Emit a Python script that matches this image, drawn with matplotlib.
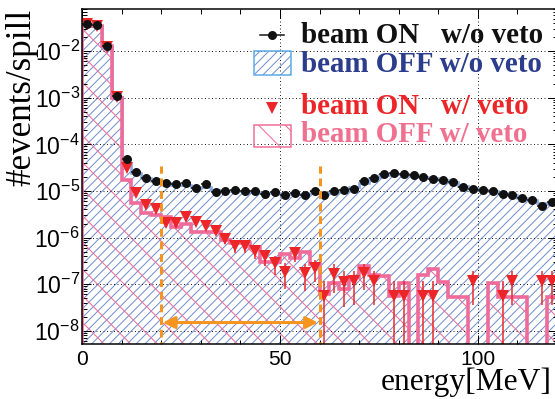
import numpy as np
import matplotlib
matplotlib.use("Agg")
import matplotlib.pyplot as plt
from matplotlib.patches import Rectangle
from matplotlib.lines import Line2D
from matplotlib.ticker import (FixedLocator, LogLocator, MultipleLocator,
                               FuncFormatter, NullFormatter)

# ---------------------------------------------------------------- data
bin_width = 2.5
n_bins = 48

# beam ON, no veto (events/spill per 2.5 MeV bin)
beam_on_noveto = [
    0.039, 0.036, 0.013, 0.0011, 4.8e-5, 2.5e-5, 1.9e-5, 1.6e-5,
    1.5e-5, 1.4e-5, 1.5e-5, 1.15e-5, 1.4e-5, 9.6e-6, 1.0e-5, 1.07e-5,
    9.8e-6, 1.0e-5, 8.8e-6, 9.4e-6, 8.3e-6, 9.1e-6, 8.2e-6, 9.8e-6,
    8.3e-6, 9.8e-6, 1.05e-5, 1.1e-5, 1.6e-5, 1.9e-5, 2.3e-5, 2.4e-5,
    2.35e-5, 2.2e-5, 1.95e-5, 1.8e-5, 1.7e-5, 1.58e-5, 1.2e-5, 1.08e-5,
    1.03e-5, 9.8e-6, 8.8e-6, 8.1e-6, 6.9e-6, 6.4e-6, 4.8e-6, 5.7e-6,
]

# beam OFF, no veto
beam_off_noveto = [
    0.038, 0.035, 0.0125, 0.00105, 3.8e-5, 2.4e-5, 1.9e-5, 1.6e-5,
    1.45e-5, 1.35e-5, 1.35e-5, 1.2e-5, 1.2e-5, 1.05e-5, 1.0e-5, 1.0e-5,
    9.8e-6, 9.6e-6, 9.2e-6, 9.0e-6, 8.8e-6, 8.7e-6, 8.6e-6, 8.9e-6,
    9.0e-6, 9.5e-6, 1.05e-5, 1.2e-5, 1.5e-5, 1.85e-5, 2.15e-5, 2.3e-5,
    2.3e-5, 2.2e-5, 2.0e-5, 1.85e-5, 1.7e-5, 1.55e-5, 1.3e-5, 1.15e-5,
    1.05e-5, 9.8e-6, 9.0e-6, 8.2e-6, 7.2e-6, 6.4e-6, 5.4e-6, 5.2e-6,
]

# beam ON, with veto (0 = empty bin)
beam_on_veto = [
    0.038, 0.035, 0.0125, 0.00105, 3.1e-5, 9.0e-6, 5.0e-6, 4.1e-6,
    2.1e-6, 2.1e-6, 2.8e-6, 2.2e-6, 1.8e-6, 1.4e-6, 9.4e-7, 6.5e-7,
    6.5e-7, 5.2e-7, 4.0e-7, 2.8e-7, 1.8e-7, 4.6e-7, 1.7e-7, 2.2e-7,
    5.7e-8, 1.65e-7, 1.12e-7, 1.15e-7, 1.75e-7, 1.15e-7, 0, 5.7e-8,
    5.7e-8, 0, 5.7e-8, 5.7e-8, 0, 0, 0, 1.15e-7,
    0, 0, 5.7e-8, 1.15e-7, 0, 0, 1.15e-7, 1.15e-7,
]
beam_on_veto_err = [
    0, 0, 0, 0, 1.3e-6, 7.2e-7, 5.3e-7, 4.8e-7,
    3.5e-7, 3.5e-7, 4.0e-7, 3.5e-7, 3.2e-7, 2.8e-7, 2.3e-7, 1.9e-7,
    1.9e-7, 1.7e-7, 1.5e-7, 1.26e-7, 1.0e-7, 1.6e-7, 1.0e-7, 1.1e-7,
    5.7e-8, 1.0e-7, 8.0e-8, 8.0e-8, 1.0e-7, 8.0e-8, 0, 5.7e-8,
    5.7e-8, 0, 5.7e-8, 5.7e-8, 0, 0, 0, 8.0e-8,
    0, 0, 5.7e-8, 8.0e-8, 0, 0, 8.0e-8, 8.0e-8,
]

# beam OFF, with veto (0 = empty bin)
beam_off_veto = [
    0.037, 0.035, 0.013, 0.001, 1.7e-5, 5.6e-6, 3.4e-6, 3.1e-6,
    2.7e-6, 1.7e-6, 2.0e-6, 1.3e-6, 1.3e-6, 1.3e-6, 8.7e-7, 7.6e-7,
    7.6e-7, 6.0e-7, 3.0e-7, 3.0e-7, 4.5e-7, 3.7e-7, 5.0e-7, 2.7e-7,
    6.0e-8, 1.07e-7, 8.0e-8, 1.4e-7, 2.4e-7, 1.6e-7, 1.5e-7, 5.5e-8,
    1.07e-7, 0, 1.6e-7, 2.1e-7, 1.1e-7, 5.3e-8, 5.3e-8, 0,
    0, 1.07e-7, 5.3e-8, 5.3e-8, 5.3e-8, 0, 0, 5.3e-8,
]

signal_window = [20, 60]          # MeV
window_line_top = 3.5e-5
window_arrow_y = 1.5e-8

y_decades = [1e-8, 1e-7, 1e-6, 1e-5, 1e-4, 1e-3, 1e-2]

legend_labels = ["beam ON   w/o veto", "beam OFF w/o veto",
                 "beam ON   w/ veto", "beam OFF w/ veto"]

# ---------------------------------------------------------------- style
DPI = 80
W, H = 555, 399
PT = 72.0 / DPI          # points per pixel

C_BLACK = "#111111"
C_BLUE_HATCH = "#7090d0"
C_BLUE_EDGE = "#86a8de"
C_BLUE_BOX = "#5aaae6"
C_BLUE_TEXT = "#2b3d8c"
C_RED = "#ec2528"
C_PINK = "#f06b9a"
C_PINK_TEXT = "#f07090"
C_ORANGE = "#f7941d"
FLOOR = 1e-13

plt.rcParams["hatch.linewidth"] = 1.0 * PT
plt.rcParams["mathtext.fontset"] = "custom"
plt.rcParams["mathtext.rm"] = "Liberation Sans"
plt.rcParams["mathtext.default"] = "regular"
plt.rcParams["font.family"] = ["Liberation Sans", "DejaVu Sans"]

fig = plt.figure(figsize=(W / DPI, H / DPI), dpi=DPI)
ax = fig.add_axes([82 / W, 1 - 344 / H, (557 - 82) / W, (344 - 9) / H])
ax.set_yscale("log")

edges = np.arange(n_bins + 1) * bin_width
centers = edges[:-1] + bin_width / 2

off_noveto = np.asarray(beam_off_noveto)
off_veto = np.asarray(beam_off_veto)
on_noveto = np.asarray(beam_on_noveto)
on_veto = np.asarray(beam_on_veto, dtype=float)
on_veto_err = np.asarray(beam_on_veto_err)

# beam OFF w/o veto: blue hatched histogram
ax.stairs(np.where(off_noveto > 0, off_noveto, FLOOR), edges, baseline=FLOOR,
          fill=True, facecolor="none", edgecolor=C_BLUE_HATCH, hatch="///",
          linewidth=0, zorder=1)
ax.stairs(np.where(off_noveto > 0, off_noveto, FLOOR), edges, baseline=None,
          color=C_BLUE_EDGE, linewidth=2.6 * PT, zorder=3)

# beam OFF w/ veto: pink hatched histogram
ax.stairs(np.where(off_veto > 0, off_veto, FLOOR), edges, baseline=FLOOR,
          fill=True, facecolor="none", edgecolor=C_PINK, hatch="\\",
          linewidth=0, zorder=1.2)
ax.stairs(np.where(off_veto > 0, off_veto, FLOOR), edges, baseline=FLOOR,
          color=C_PINK, linewidth=3.6 * PT, zorder=3.2)

# beam ON w/ veto: red triangles
mask = on_veto > 0
ax.errorbar(centers[mask], on_veto[mask], yerr=on_veto_err[mask], fmt="v",
            color=C_RED, ms=11.5 * PT, mew=0, elinewidth=1.5 * PT, capsize=0,
            zorder=4)

# beam ON w/o veto: black points
ax.errorbar(centers, on_noveto, xerr=bin_width / 2, fmt="o", color=C_BLACK,
            ms=9 * PT, mew=0, elinewidth=1.5 * PT, capsize=0, zorder=5)

# signal window markers
ax.vlines(signal_window, 1e-12, window_line_top, colors=C_ORANGE,
          linewidth=3 * PT, linestyles=(0, (2.6, 1.6)), zorder=6)
ax.annotate("", xy=(signal_window[0] + 0.4, window_arrow_y),
            xytext=(signal_window[1] - 0.4, window_arrow_y),
            arrowprops=dict(arrowstyle="<|-|>,head_length=0.9,head_width=0.45",
                            color=C_ORANGE, lw=3 * PT, shrinkA=0, shrinkB=0),
            zorder=6)

# axes
ax.set_xlim(0, 120)
ax.set_ylim(5.2e-9, 0.08)
ax.xaxis.set_major_locator(MultipleLocator(50))
ax.xaxis.set_minor_locator(MultipleLocator(10))
ax.yaxis.set_major_locator(FixedLocator(y_decades))
ax.yaxis.set_minor_locator(LogLocator(base=10, subs=np.arange(2, 10), numticks=50))
ax.yaxis.set_minor_formatter(NullFormatter())
ax.yaxis.set_major_formatter(FuncFormatter(
    lambda v, p: r"$10^{%d}$" % int(round(np.log10(v)))))
ax.tick_params(which="both", direction="in", top=True, right=True,
               width=1.0 * PT, colors="black")
ax.tick_params(which="major", length=9 * PT)
ax.tick_params(which="minor", length=4.5 * PT)
ax.tick_params(axis="x", which="major", pad=6 * PT, labelsize=21 * PT)
ax.tick_params(axis="y", which="major", pad=2 * PT, labelsize=23 * PT)
for s in ax.spines.values():
    s.set_linewidth(1.5 * PT)
    s.set_zorder(7)

ax.grid(True, which="major", linestyle=(0, (1, 2.5)), color="#222222",
        linewidth=1.0 * PT, zorder=2.5)
ax.set_axisbelow(False)

# axis titles
serif = ["Liberation Serif", "DejaVu Serif"]
fig.text(22 / W, 1 - 9 / H, "#events/spill", family=serif, size=35 * PT,
         rotation=90, ha="center", va="top")
fig.text(552 / W, 1 - 390 / H, "energy[MeV]", family=serif, size=31.5 * PT,
         ha="right", va="baseline")

# legend
def fx(px):
    return px / W

def fy(py):
    return 1 - py / H

fig.add_artist(Line2D([fx(260), fx(284)], [fy(35), fy(35)], color=C_BLACK,
                      lw=1.5 * PT))
fig.add_artist(Line2D([fx(272)], [fy(35)], marker="o", ms=9 * PT, mew=0,
                      color=C_BLACK))
fig.add_artist(Rectangle((fx(254), fy(75)), fx(291) - fx(254), fy(51) - fy(75),
                         facecolor="none", edgecolor=C_BLUE_HATCH, hatch="///",
                         lw=0))
fig.add_artist(Rectangle((fx(254), fy(75)), fx(291) - fx(254), fy(51) - fy(75),
                         facecolor="none", edgecolor=C_BLUE_BOX, lw=1.5 * PT))
fig.add_artist(Line2D([fx(272)], [fy(108)], marker="v", ms=11.5 * PT, mew=0,
                      color=C_RED))
fig.add_artist(Rectangle((fx(254), fy(147)), fx(291) - fx(254), fy(125) - fy(147),
                         facecolor="none", edgecolor=C_PINK, hatch="\\",
                         lw=0))
fig.add_artist(Rectangle((fx(254), fy(147)), fx(291) - fx(254), fy(125) - fy(147),
                         facecolor="none", edgecolor=C_PINK, lw=1.5 * PT))

text_colors = [C_BLACK, C_BLUE_TEXT, C_RED, C_PINK_TEXT]
baselines = [43, 71.5, 114, 142.5]
for label, col, by in zip(legend_labels, text_colors, baselines):
    fig.text(fx(301), fy(by), label, family=serif, size=29 * PT,
             weight="bold", color=col, ha="left", va="baseline")

fig.savefig("out.png", dpi=DPI)
